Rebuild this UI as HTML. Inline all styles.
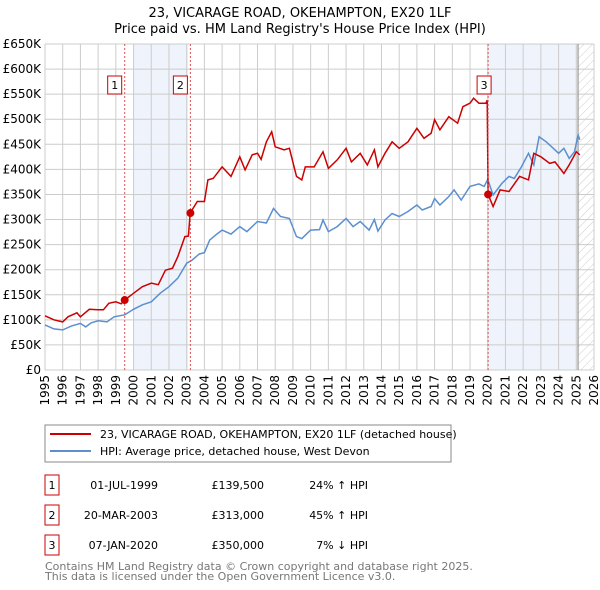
<!DOCTYPE html>
<html><head><meta charset="utf-8"><style>
body{margin:0;background:#fff;width:600px;height:590px;overflow:hidden;font-family:"DejaVu Sans","Liberation Sans",sans-serif;}
svg{display:block}
</style></head><body>
<svg id="chart" width="600" height="590" xmlns="http://www.w3.org/2000/svg" font-family="DejaVu Sans, Liberation Sans, sans-serif">
<defs><pattern id="hatch" patternUnits="userSpaceOnUse" width="6" height="6" patternTransform="rotate(45)"><line x1="0" y1="0" x2="0" y2="6" stroke="#ccc" stroke-width="1"/></pattern></defs>
<text x="300" y="17" text-anchor="middle" font-size="13">23, VICARAGE ROAD, OKEHAMPTON, EX20 1LF</text>
<text x="300" y="33" text-anchor="middle" font-size="13">Price paid vs. HM Land Registry's House Price Index (HPI)</text>
<g id="bg"></g><g id="grid"></g><g id="axes"></g><g id="series"></g><g id="markers"></g>
<rect x="45" y="425" width="406" height="37" fill="#fff" stroke="#888"/>
<line x1="50" y1="434" x2="91" y2="434" stroke="#cc0000" stroke-width="2"/>
<text x="100" y="438" font-size="11">23, VICARAGE ROAD, OKEHAMPTON, EX20 1LF (detached house)</text>
<line x1="50" y1="451" x2="91" y2="451" stroke="#5b8fd0" stroke-width="2"/>
<text x="100" y="455" font-size="11">HPI: Average price, detached house, West Devon</text>
<g id="table" font-size="11"></g>
<text x="45" y="570" font-size="11" fill="#777">Contains HM Land Registry data © Crown copyright and database right 2025.</text>
<text x="45" y="580" font-size="11" fill="#777">This data is licensed under the Open Government Licence v3.0.</text>
</svg>
<script>
const hpiYears=[1995,1995.5,1996,1996.5,1997,1997.3,1997.6,1998,1998.5,1998.9,1999.5,2000,2000.5,2001,2001.5,2002,2002.5,2003,2003.3,2003.7,2004,2004.3,2004.7,2005,2005.5,2006,2006.4,2007,2007.5,2007.9,2008.3,2008.8,2009.2,2009.5,2010,2010.5,2010.7,2011,2011.5,2012,2012.4,2012.8,2013.3,2013.6,2013.8,2014.2,2014.6,2015,2015.5,2016,2016.3,2016.8,2017,2017.3,2017.8,2018.1,2018.5,2019,2019.5,2019.8,2020,2020.3,2020.8,2021.2,2021.5,2021.9,2022.3,2022.6,2022.9,2023.3,2023.7,2024,2024.3,2024.6,2024.9,2025.1,2025.2];
const hpiValues=[90,82,80,88,93,86,94,98,96,106,110,121,130,136,153,166,183,213,219,231,234,259,271,279,271,286,276,296,293,322,306,302,266,262,279,280,299,276,286,302,286,296,279,300,277,299,312,306,316,329,319,326,342,329,346,359,339,366,371,366,380,349,372,386,382,405,432,409,465,455,442,432,442,422,435,469,459];
const propYears=[1995,1995.5,1996,1996.3,1996.8,1997,1997.5,1998,1998.3,1998.6,1999,1999.3,1999.5,2000,2000.5,2001,2001.4,2001.8,2002.2,2002.5,2002.9,2003.1,2003.2,2003.6,2004,2004.2,2004.5,2005,2005.5,2006,2006.3,2006.7,2007,2007.2,2007.5,2007.8,2008,2008.5,2008.8,2009.2,2009.5,2009.7,2010.2,2010.7,2011,2011.5,2012,2012.3,2012.8,2013.2,2013.6,2013.8,2014.2,2014.6,2015,2015.5,2016,2016.4,2016.8,2017,2017.3,2017.8,2018.3,2018.6,2019,2019.2,2019.5,2019.9,2019.97,2020.02,2020.3,2020.7,2021.2,2021.8,2022.3,2022.6,2023,2023.5,2023.8,2024.3,2024.6,2025,2025.2];
const propValues=[108,100,96,106,114,106,121,120,120,133,136,132,139.5,153,166,173,170,199,203,226,266,267,313,336,336,379,382,405,386,425,399,429,432,420,455,475,445,439,442,386,379,405,405,435,402,419,442,415,432,409,439,405,432,455,442,455,482,462,472,499,479,505,492,525,532,542,532,532,538,350,326,359,356,386,379,432,425,412,415,392,409,435,429];
const saleYears=[1999.5,2003.21,2020.02];
const saleValues=[139.5,313,350];
const saleLabels=["1","2","3"];
const saleDates=["01-JUL-1999","20-MAR-2003","07-JAN-2020"];
const salePrices=["£139,500","£313,000","£350,000"];
const saleHpi=["24% ↑ HPI","45% ↑ HPI","7% ↓ HPI"];
const yTicks=[0,50,100,150,200,250,300,350,400,450,500,550,600,650];
const xTicks=[1995,1996,1997,1998,1999,2000,2001,2002,2003,2004,2005,2006,2007,2008,2009,2010,2011,2012,2013,2014,2015,2016,2017,2018,2019,2020,2021,2022,2023,2024,2025,2026];
const shadeRanges=[[2000,2003.07],[2020.02,2025.1]];

const NS="http://www.w3.org/2000/svg";
const L=45,R=594,T=44,B=370;
const x=y=>L+(y-1995)/31*(R-L);
const yv=v=>B-v/650*(B-T);
function mk(parent,tag,attrs){const e=document.createElementNS(NS,tag);for(const k in attrs)e.setAttribute(k,attrs[k]);document.getElementById(parent).appendChild(e);return e;}

shadeRanges.forEach(r=>{
 const e=mk('bg','rect',{x:x(r[0]),y:T,width:x(r[1])-x(r[0]),height:B-T,fill:'#eef3fc'});
 
 
});
{const e=mk('bg','rect',{x:x(2025.1),y:T,width:R-x(2025.1),height:B-T,fill:'url(#hatch)'});
 
 }
yTicks.forEach(v=>{
 const g=mk('grid','line',{x1:L,x2:R,y1:yv(v),y2:yv(v),stroke:'#ccc','stroke-width':1});
 
 
 const t=mk('axes','text',{x:L-4,y:yv(v)+4,'text-anchor':'end','font-size':12});
 
 
 t.textContent='£'+(v===0?'0':v+'K');
});
xTicks.forEach(yr=>{
 const g=mk('grid','line',{x1:x(yr),x2:x(yr),y1:T,y2:B,stroke:'#ccc','stroke-width':1});
 
 
 const t=mk('axes','text',{x:0,y:0,'font-size':12,'text-anchor':'end',transform:`translate(${x(yr)+4},${B+5}) rotate(-90)`});
 
 
 t.textContent=yr;
});
{const e=mk('grid','line',{x1:x(2025.1),x2:x(2025.1),y1:T,y2:B,stroke:'#888','stroke-width':1});
 
 }
function path(xs,vs){return xs.map((a,i)=>(i?'L':'M')+x(a).toFixed(1)+','+yv(vs[i]).toFixed(1)).join('');}
{const e=mk('series','path',{d:path(hpiYears,hpiValues),fill:'none',stroke:'#5b8fd0','stroke-width':1.5});
 
 }
{const e=mk('series','path',{d:path(propYears,propValues),fill:'none',stroke:'#cc0000','stroke-width':1.5});
 
 }
saleYears.forEach((s,i)=>{
 const l=mk('markers','line',{x1:x(s),x2:x(s),y1:T,y2:B,stroke:'#e05050','stroke-width':1,'stroke-dasharray':'2,2'});
 
 
 const c=mk('markers','circle',{cx:x(s),cy:yv(saleValues[i]),r:4,fill:'#cc0000'});
 
 
 const bx=x(s)-(i<2?10:4)-7;
 const r=mk('markers','rect',{x:bx,y:76,width:14,height:18,fill:'#fff',stroke:'#cc0000'});
 
 
 const t=mk('markers','text',{x:bx+7,y:89,'text-anchor':'middle','font-size':11});
 
 
 t.textContent=saleLabels[i];
});
saleYears.forEach((s,i)=>{
 const cy=485+i*30;
 const r=mk('table','rect',{x:45,y:cy-10,width:14,height:20,fill:'#fff',stroke:'#cc0000'});
 
 
 const vals=[[52,saleLabels[i],'middle'],[158,saleDates[i],'end'],[264,salePrices[i],'end'],[368,saleHpi[i],'end']];
 vals.forEach(v=>{
  const t=mk('table','text',{x:v[0],y:cy+4,'text-anchor':v[2]});
  
  
  t.textContent=v[1];
 });
});
</script>
</body></html>
